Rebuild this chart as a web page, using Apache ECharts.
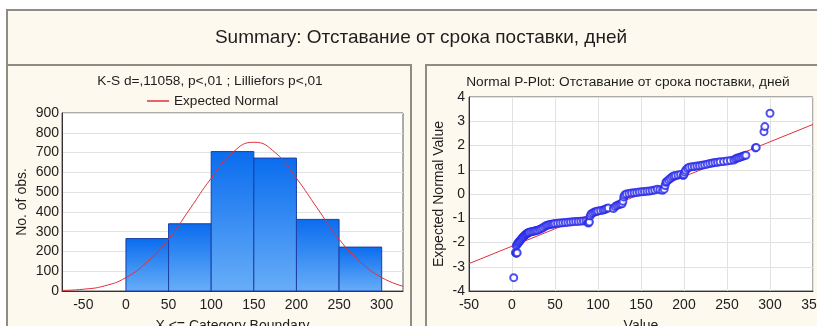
<!DOCTYPE html>
<html>
<head>
<meta charset="utf-8">
<script src="https://cdn.jsdelivr.net/npm/echarts@6/dist/echarts.min.js"></script>
<style>
html,body{margin:0;padding:0;background:#ffffff;}
#c{width:817px;height:326px;}
</style>
</head>
<body>
<div id="c"></div>
<script>
// ---- Data ----
var mainTitle = 'Summary: Отставание от срока поставки, дней';
var histTitle = 'K-S d=,11058, p<,01 ; Lilliefors p<,01';
var ppTitle = 'Normal P-Plot: Отставание от срока поставки, дней';

// Histogram bins [lower, upper] and counts
var binLower = [0, 50, 100, 150, 200, 250];
var binUpper = [50, 100, 150, 200, 250, 300];
var binCounts = [265, 340, 705, 672, 362, 222];

// Expected normal curve
var curveX = [-75, -50, -25, 0, 25, 50, 75, 100, 125, 150, 175, 200, 225, 250, 275, 300, 325];
var curveY = [3, 9, 26, 68, 148, 262, 415, 570, 700, 752, 700, 570, 415, 262, 148, 68, 24];

// Histogram x tick labels
var histTicks = [-50, 0, 50, 100, 150, 200, 250, 300];

// Normal probability plot points [value, expected normal value]
var ppPoints = [
  [2,-3.45],[4,-2.42],[5,-2.45],[6,-2.42],
  [5,-2.13],[6,-2.08],[7,-2.02],[8,-1.98],[9,-1.94],[10,-1.9],[11,-1.85],[12,-1.81],[13,-1.77],[14,-1.74],
  [15,-1.7],[16,-1.67],[17,-1.64],[18,-1.62],[19,-1.6],[20,-1.58],[22,-1.56],[24,-1.55],[26,-1.53],[28,-1.51],
  [30,-1.49],[32,-1.46],[34,-1.43],[36,-1.39],[38,-1.34],[40,-1.3],[42,-1.28],[44,-1.26],[46,-1.25],[48,-1.24],
  [50,-1.22],[53,-1.21],[56,-1.2],[59,-1.19],[62,-1.18],[65,-1.17],[68,-1.15],[71,-1.14],[74,-1.13],[77,-1.13],
  [80,-1.12],[83,-1.11],[86,-1.11],[88,-1.17],[89,-1.2],[90,-1.15],[91,-0.9],[92,-0.82],[94,-0.78],[96,-0.74],
  [98,-0.72],[100,-0.7],[103,-0.68],[106,-0.66],[108,-0.64],[110,-0.6],[112,-0.58],[118,-0.6],[120,-0.52],
  [122,-0.47],[124,-0.44],[126,-0.42],[128,-0.4],[129,-0.3],[130,-0.12],[131,-0.04],[133,0],[136,0.02],
  [139,0.04],[142,0.05],[145,0.06],[148,0.08],[151,0.09],[154,0.1],[157,0.11],[160,0.12],[163,0.14],[166,0.17],
  [169,0.2],[172,0.18],[175,0.15],[177,0.2],[178,0.35],[179,0.48],[180,0.52],[182,0.58],[184,0.64],[186,0.7],
  [188,0.74],[190,0.76],[193,0.78],[196,0.8],[199,0.76],[200,0.8],[201,0.9],[202,0.98],[204,1.06],[206,1.1],
  [209,1.12],[212,1.13],[215,1.15],[218,1.17],[221,1.19],[224,1.21],[227,1.23],[230,1.26],[233,1.28],[236,1.3],
  [239,1.31],[242,1.33],[246,1.34],[250,1.36],[254,1.38],[258,1.4],[260,1.45],[262,1.48],[264,1.5],[266,1.53],
  [268,1.55],[270,1.58],[272,1.6],[283,1.9],[284,1.92],[293,2.57],[294,2.78],[300,3.33]
];
// Reference line endpoints
var refLine = [[-50, -2.87], [350, 2.87]];

// ---- Chart ----
var chart = echarts.init(document.getElementById('c'), null, {renderer: 'canvas'});
var FONT = 'Liberation Sans, Arial, sans-serif';
var TXT = '#1e1e1e';
var cream = '#fdf9ee';
var frame = '#8e8d84';
var FS = 14;

var histData = binCounts.map(function (c, i) { return [binLower[i], binUpper[i], c]; });
var curveData = curveX.map(function (x, i) { return [x, curveY[i]]; });

function axisCommon(extra) {
  var o = {
    nameTextStyle: {fontFamily: FONT, fontSize: FS, color: TXT},
    axisLine: {show: true, onZero: false, lineStyle: {color: '#333'}},
    axisTick: {show: false},
    splitLine: {show: true, lineStyle: {color: '#e2e2e2'}}
  };
  for (var k in extra) o[k] = extra[k];
  return o;
}

var option = {
  animation: false,
  backgroundColor: '#ffffff',
  textStyle: {fontFamily: FONT},
  graphic: [
    {type: 'rect', z: -10, shape: {x: 7, y: 10, width: 830, height: 330}, style: {fill: cream, stroke: null}},
    {type: 'rect', z: -9, shape: {x: 7, y: 10, width: 830, height: 55}, style: {fill: 'none', stroke: frame, lineWidth: 2}},
    {type: 'rect', z: -9, shape: {x: 7, y: 65, width: 404, height: 280}, style: {fill: 'none', stroke: frame, lineWidth: 2}},
    {type: 'rect', z: -9, shape: {x: 426, y: 65, width: 420, height: 280}, style: {fill: 'none', stroke: frame, lineWidth: 2}},
    {type: 'rect', z: -8, shape: {x: 412, y: 64, width: 13, height: 3}, style: {fill: cream}}
  ],
  title: [
    {text: mainTitle, left: 416, top: 23, textAlign: 'center',
     textStyle: {fontFamily: FONT, fontSize: 19, fontWeight: 'normal', color: TXT}},
    {text: histTitle, left: 205, top: 69, textAlign: 'center',
     textStyle: {fontFamily: FONT, fontSize: 13.7, fontWeight: 'normal', color: TXT}},
    {text: ppTitle, left: 623, top: 70, textAlign: 'center',
     textStyle: {fontFamily: FONT, fontSize: 13.7, fontWeight: 'normal', color: TXT}}
  ],
  legend: {
    left: 142, top: 89, itemWidth: 22, itemHeight: 1.5, itemGap: 6,
    data: [{name: 'Expected Normal', icon: 'rect'}],
    itemStyle: {color: '#e0303c'},
    textStyle: {fontFamily: FONT, fontSize: 13.6, color: TXT, padding: [0, 0, 0, 0]}
  },
  grid: [
    {left: 62, top: 113, width: 341, height: 178, outerBoundsMode: 'none', show: true, backgroundColor: '#ffffff', borderColor: '#5a5a5a', borderWidth: 1},
    {left: 469, top: 97, width: 344, height: 194, outerBoundsMode: 'none', show: true, backgroundColor: '#ffffff', borderColor: '#5a5a5a', borderWidth: 1}
  ],
  xAxis: [
    axisCommon({gridIndex: 0, type: 'value', min: -75, max: 325,
     name: 'X <= Category Boundary', nameLocation: 'middle', nameGap: 28,
     axisTick: {show: false, customValues: histTicks},
     axisLabel: {customValues: histTicks, fontFamily: FONT, fontSize: FS, color: TXT, margin: 7},
     splitLine: {show: false}}),
    axisCommon({gridIndex: 1, type: 'value', min: -50, max: 350, interval: 50,
     name: 'Value', nameLocation: 'middle', nameGap: 28,
     axisLabel: {fontFamily: FONT, fontSize: FS, color: TXT, margin: 7, showMaxLabel: true, showMinLabel: true}})
  ],
  yAxis: [
    axisCommon({gridIndex: 0, type: 'value', min: 0, max: 900, interval: 100,
     name: 'No. of obs.', nameLocation: 'middle', nameGap: 33, nameRotate: 90,
     axisLabel: {fontFamily: FONT, fontSize: FS, color: TXT, margin: 3}}),
    axisCommon({gridIndex: 1, type: 'value', min: -4, max: 4, interval: 1,
     name: 'Expected Normal Value', nameLocation: 'middle', nameGap: 23, nameRotate: 90,
     axisLabel: {fontFamily: FONT, fontSize: FS, color: TXT, margin: 4}})
  ],
  series: [
    {
      type: 'custom', name: 'Histogram', xAxisIndex: 0, yAxisIndex: 0,
      data: histData,
      encode: {x: [0, 1], y: 2},
      renderItem: function (params, api) {
        var p0 = api.coord([api.value(0), api.value(2)]);
        var p1 = api.coord([api.value(1), 0]);
        return {
          type: 'rect',
          shape: {x: p0[0], y: p0[1], width: p1[0] - p0[0], height: p1[1] - p0[1]},
          style: {
            fill: new echarts.graphic.LinearGradient(0, 0, 0, 1, [
              {offset: 0, color: '#0a6cee'},
              {offset: 1, color: '#68aef8'}
            ]),
            stroke: '#1b3fa6', lineWidth: 1
          }
        };
      },
      z: 2
    },
    {
      type: 'line', name: 'Expected Normal', xAxisIndex: 0, yAxisIndex: 0,
      data: curveData, smooth: 0.5, symbol: 'none', showSymbol: false,
      lineStyle: {color: '#e0303c', width: 1}, itemStyle: {color: '#e0303c'},
      z: 3
    },
    {
      type: 'line', name: 'Ref', xAxisIndex: 1, yAxisIndex: 1,
      data: refLine, symbol: 'none', lineStyle: {color: '#e0303c', width: 1}, z: 2
    },
    {
      type: 'scatter', name: 'Points', xAxisIndex: 1, yAxisIndex: 1,
      data: ppPoints, symbol: 'emptyCircle', symbolSize: 7,
      itemStyle: {color: '#2424e8', borderColor: '#2424e8', borderWidth: 1.7},
      z: 3
    }
  ]
};
chart.setOption(option);
</script>
</body>
</html>
